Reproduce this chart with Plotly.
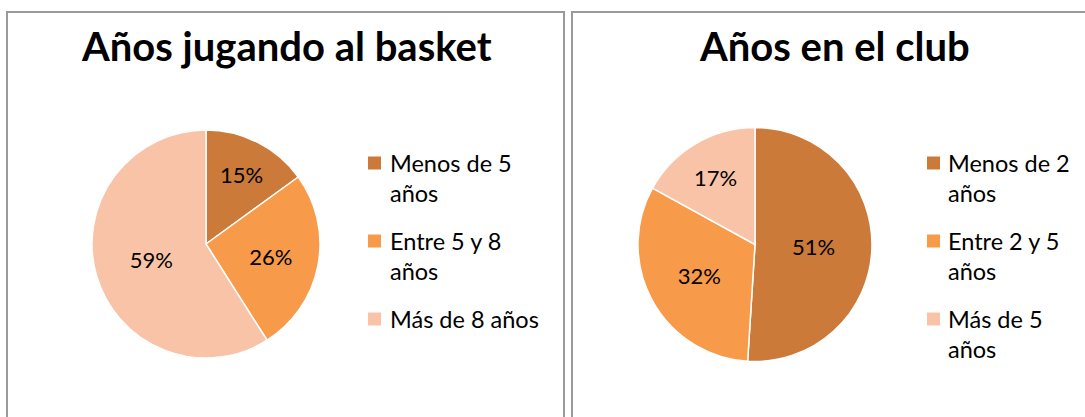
import plotly.graph_objects as go

W, H = 1085, 417

# ---- data ----
title_left = "Años jugando al basket"
labels_left = ["Menos de 5 años", "Entre 5 y 8 años", "Más de 8 años"]
values_left = [15, 26, 59]
legend_left = [["Menos de 5", "años"], ["Entre 5 y 8", "años"], ["Más de 8 años"]]

title_right = "Años en el club"
labels_right = ["Menos de 2 años", "Entre 2 y 5 años", "Más de 5 años"]
values_right = [51, 32, 17]
legend_right = [["Menos de 2", "años"], ["Entre 2 y 5", "años"], ["Más de 5", "años"]]

colors = ["#CB7A3A", "#F79A4A", "#F9C3A8"]

FONT = "Lato, 'Open Sans', sans-serif"


def px(x):
    return x / W


def py(y):
    return 1 - y / H


fig = go.Figure()


def add_pie(values, labels, cx, cy, r):
    fig.add_trace(go.Pie(
        values=values,
        labels=labels,
        sort=False,
        direction="clockwise",
        rotation=0,
        marker=dict(colors=colors, line=dict(color="white", width=1.5)),
        texttemplate="%{percent:.0%}",
        textposition="inside",
        insidetextorientation="horizontal",
        textfont=dict(family=FONT, size=22, color="black"),
        showlegend=False,
        domain=dict(x=[px(cx - r), px(cx + r)], y=[py(cy + r), py(cy - r)]),
        hoverinfo="label+percent",
    ))


add_pie(values_left, labels_left, 206, 244, 114)
add_pie(values_right, labels_right, 755, 244.5, 117)

annotations = []
shapes = []

# panel borders
for x0, x1 in [(7, 564), (572, 1090)]:
    shapes.append(dict(type="rect", xref="paper", yref="paper",
                       x0=px(x0), x1=px(x1), y0=py(430), y1=py(12),
                       line=dict(color="#9A9A9A", width=2), fillcolor="rgba(0,0,0,0)",
                       layer="below"))

# titles
for text, cx in [(title_left, 286), (title_right, 834.5)]:
    annotations.append(dict(text="<b>" + text + "</b>", x=px(cx), y=py(46),
                            xref="paper", yref="paper", xanchor="center", yanchor="middle",
                            showarrow=False, font=dict(family=FONT, size=40, color="black")))


def add_legend(items, sq_x, tx_x):
    for i, lines in enumerate(items):
        y0 = 163 + 78 * i
        shapes.append(dict(type="rect", xref="paper", yref="paper",
                           x0=px(sq_x), x1=px(sq_x + 13), y0=py(y0 + 6.5), y1=py(y0 - 6.5),
                           line=dict(width=0), fillcolor=colors[i]))
        for j, line in enumerate(lines):
            annotations.append(dict(text=line, x=px(tx_x), y=py(y0 + 29.5 * j),
                                    xref="paper", yref="paper", xanchor="left", yanchor="middle",
                                    showarrow=False,
                                    font=dict(family=FONT, size=23.5, color="black")))


add_legend(legend_left, 368, 388)
add_legend(legend_right, 927, 946)

fig.update_layout(
    width=W, height=H,
    margin=dict(l=0, r=0, t=0, b=0),
    paper_bgcolor="white",
    plot_bgcolor="white",
    annotations=annotations,
    shapes=shapes,
)

fig.write_html("out.html",
               config={"displayModeBar": False},
               post_script="document.body.style.margin='0';document.body.style.overflow='hidden';")
